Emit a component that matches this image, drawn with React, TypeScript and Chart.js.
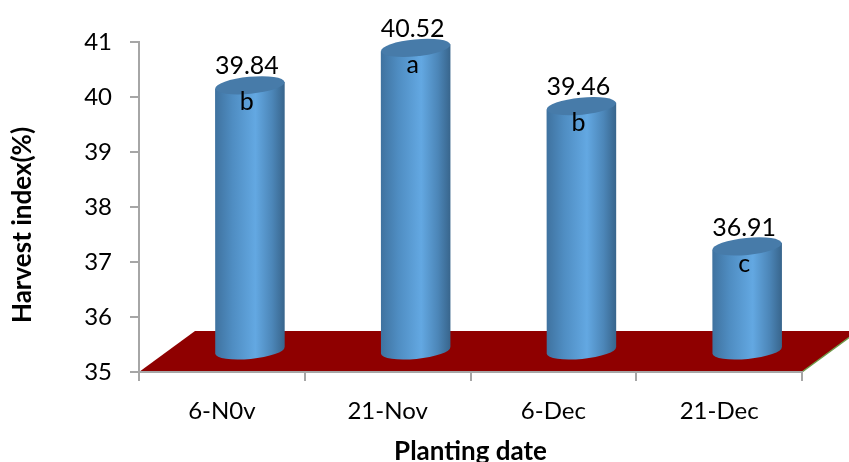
import React, { useEffect, useRef } from "react";
import { Chart, registerables } from "chart.js";

Chart.register(...registerables);

const plantingDates = ["6-N0v", "21-Nov", "6-Dec", "21-Dec"];
const harvestIndex = [39.84, 40.52, 39.46, 36.91];
const significance = ["b", "a", "b", "c"];
const axisFloor = 35;
const valueAxisTitle = "Harvest index(%)";

const FONT = "Lato, 'Open Sans', sans-serif";
const DEPTH_X = 56;
const DEPTH_Y = 41;

// Perspective floor behind the axes, sheared back from the category axis.
const floorPlugin = {
  id: "floor",
  beforeDraw(chart: any) {
    const { ctx, chartArea: a } = chart;
    ctx.save();
    ctx.fillStyle = "#8f0000";
    ctx.beginPath();
    ctx.moveTo(a.left, a.bottom);
    ctx.lineTo(a.left + DEPTH_X, a.bottom - DEPTH_Y);
    ctx.lineTo(a.right + DEPTH_X, a.bottom - DEPTH_Y);
    ctx.lineTo(a.right, a.bottom);
    ctx.closePath();
    ctx.fill();
    ctx.strokeStyle = "#6f9a4a";
    ctx.lineWidth = 1.5;
    ctx.beginPath();
    ctx.moveTo(a.right, a.bottom);
    ctx.lineTo(a.right + DEPTH_X, a.bottom - DEPTH_Y);
    ctx.stroke();
    ctx.restore();
  },
};

// Renders each bar element as a cylinder standing mid-way along the floor's depth.
const cylinderPlugin = {
  id: "cylinders",
  afterDatasetsDraw(chart: any) {
    const { ctx } = chart;
    const bars = chart.getDatasetMeta(0).data;
    const tilt = (-5.5 * Math.PI) / 180;
    bars.forEach((bar: any, i: number) => {
      const cx = bar.x + DEPTH_X / 2;
      const top = bar.y - DEPTH_Y / 2;
      const bottom = bar.base - DEPTH_Y / 2;
      const rx = bar.width / 2;
      const ry = 8.5;
      const dy = rx * Math.sin(tilt);

      const body = ctx.createLinearGradient(cx - rx, 0, cx + rx, 0);
      body.addColorStop(0, "#3f729f");
      body.addColorStop(0.25, "#4f8dc2");
      body.addColorStop(0.58, "#63a8e2");
      body.addColorStop(0.82, "#4c86b8");
      body.addColorStop(1, "#38658c");

      ctx.save();
      ctx.fillStyle = body;
      ctx.beginPath();
      ctx.moveTo(cx - rx, top - dy);
      ctx.lineTo(cx + rx, top + dy);
      ctx.lineTo(cx + rx, bottom + dy);
      ctx.ellipse(cx, bottom, rx, ry, tilt, 0, Math.PI);
      ctx.closePath();
      ctx.fill();

      ctx.fillStyle = "#477ba9";
      ctx.beginPath();
      ctx.ellipse(cx, top, rx, ry, tilt, 0, Math.PI * 2);
      ctx.fill();

      ctx.fillStyle = "#000";
      ctx.textAlign = "center";
      ctx.textBaseline = "middle";
      ctx.font = `25px ${FONT}`;
      ctx.fillText(harvestIndex[i].toFixed(2), cx - 3, top - 19);
      ctx.fillText(significance[i], cx - 3, top + 17);
      ctx.restore();
    });
  },
};

// Vertical axis title, centred on the full drop down to the label row.
const valueTitlePlugin = {
  id: "valueTitle",
  afterDraw(chart: any) {
    const { ctx } = chart;
    ctx.save();
    ctx.translate(23, 225);
    ctx.rotate(-Math.PI / 2);
    ctx.fillStyle = "#000";
    ctx.textAlign = "center";
    ctx.textBaseline = "middle";
    ctx.font = `bold 26px ${FONT}`;
    ctx.fillText(valueAxisTitle, 0, 0);
    ctx.restore();
  },
};

export default function App() {
  const ref = useRef<HTMLCanvasElement>(null);

  useEffect(() => {
    const chart = new Chart(ref.current!, {
      type: "bar",
      data: {
        labels: plantingDates,
        datasets: [
          {
            data: harvestIndex,
            base: axisFloor,
            backgroundColor: "transparent",
            borderWidth: 0,
            categoryPercentage: 1,
            barPercentage: 0.42,
          },
        ],
      },
      options: {
        responsive: false,
        animation: false,
        layout: { padding: { top: 42, right: 47, left: 0, bottom: 0 } },
        plugins: { legend: { display: false }, tooltip: { enabled: false } },
        scales: {
          x: {
            afterFit: (s: any) => {
              s.height = 90;
            },
            grid: { drawOnChartArea: false, tickLength: 9, color: "#a6a6a6", lineWidth: 2 },
            border: { color: "#a6a6a6", width: 2 },
            ticks: { color: "#000", font: { family: FONT, size: 24 }, padding: 16, maxRotation: 0 },
            title: {
              display: true,
              text: "Planting date",
              color: "#000",
              font: { family: FONT, size: 26, weight: "bold" },
              padding: { top: 10, bottom: -5 },
            },
          },
          y: {
            min: axisFloor,
            max: 41,
            afterFit: (s: any) => {
              s.width = 139;
            },
            grid: { drawOnChartArea: false, tickLength: 9, color: "#a6a6a6", lineWidth: 2 },
            border: { color: "#a6a6a6", width: 2 },
            ticks: { stepSize: 1, color: "#000", font: { family: FONT, size: 24 }, padding: 18 },
          },
        },
      },
      plugins: [floorPlugin, cylinderPlugin, valueTitlePlugin],
    } as any);
    return () => chart.destroy();
  }, []);

  return (
    <div style={{ position: "fixed", left: 0, top: 0, width: 849, height: 462, background: "#fff" }}>
      <canvas ref={ref} width={849} height={462} style={{ display: "block" }} />
    </div>
  );
}
